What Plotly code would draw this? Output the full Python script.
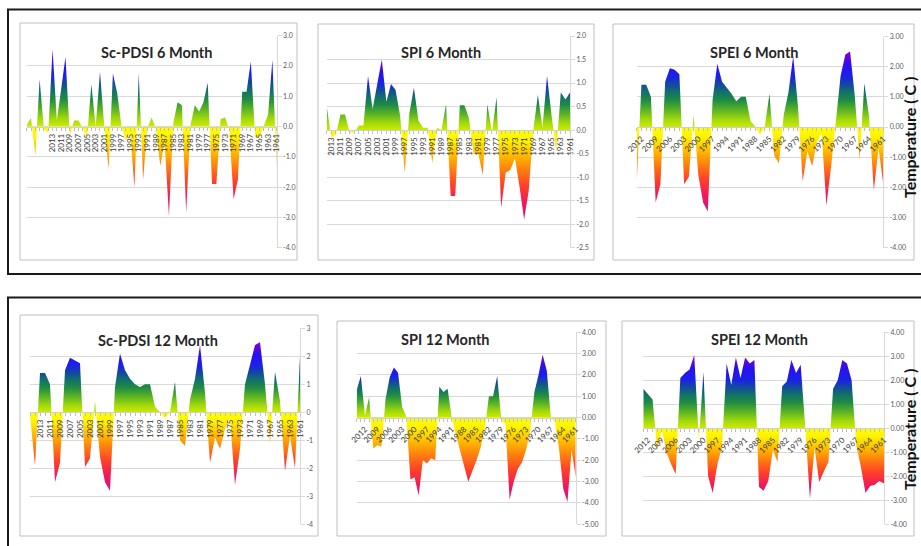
import plotly.graph_objects as go

# ---------------------------------------------------------------------------
# Drought index series, one value per year, most recent year first
# ---------------------------------------------------------------------------
pdsi6_years = list(range(2019, 1960, -1))
pdsi6_vals = [0.05, 0.28, -0.95, 1.55, -0.10, -0.20, 2.55, 0.20, 1.25, 2.30,
              -0.30, 0.20, 0.20, -0.05, -0.35, 1.40, 0.00, 1.80, 0.00, -1.40,
              1.75, 1.10, 0.00, -0.45, -0.20, -2.00, 1.75, -1.75, -0.05, 0.30,
              -0.10, -1.30, -0.50, -2.95, 0.10, 0.80, 0.70, -2.85, 0.05, 0.70,
              0.50, 0.80, 1.45, -1.90, -1.90, 0.25, 0.30, -0.10, -2.40, -1.75,
              1.15, 1.15, 2.15, -0.35, -0.35, 0.05, 0.40, 2.20, -1.40]

spi6_years = list(range(2014, 1960, -1))
spi6_vals = [0.50, -0.15, -0.10, 0.33, 0.33, -0.05, -0.05, 0.10, 0.10, 1.15,
             0.45, 0.95, 1.50, 0.60, 0.98, 0.85, 0.30, -0.90, 0.35, 0.90,
             0.20, 0.05, 0.05, -0.70, 0.05, 0.00, 0.55, -1.40, -1.40, 0.53,
             0.53, 0.25, -0.50, -0.50, -0.95, 0.55, -0.05, 0.70, -1.65, -0.90,
             -0.85, -0.60, -1.20, -1.90, -1.30, 0.00, 0.75, 0.05, 1.15, 0.30,
             -0.45, 0.80, 0.65, 0.80]

spei6_years = list(range(2013, 1960, -1))
spei6_vals = [-1.85, 1.40, 1.40, 1.00, -2.50, -1.90, 1.50, 1.95, 1.90, 1.75,
              -1.90, -1.65, 0.40, -1.60, -2.50, -2.80, 0.90, 2.10, 1.50, 1.30,
              1.10, 0.85, 1.00, 1.00, 0.20, 0.02, -0.25, 0.00, 1.10, -0.95,
              -1.20, 0.40, 1.15, 2.35, 0.70, -1.80, -0.80, -1.30, -0.50, -0.20,
              -2.60, -1.30, 0.30, 1.70, 2.40, 2.50, 1.00, -1.10, 1.45, 0.35,
              -2.10, -0.70, -1.90]

pdsi12_years = list(range(2015, 1960, -1))
pdsi12_vals = [-0.10, -1.90, 1.40, 1.40, 1.00, -2.50, -1.80, 1.50, 1.95, 1.85,
               1.75, -1.95, -1.65, 0.40, -1.60, -2.50, -2.80, 0.90, 2.10, 1.50,
               1.20, 1.00, 0.90, 1.00, 1.00, 0.20, 0.00, -0.20, 0.00, 1.10,
               -1.00, -1.20, 0.45, 1.20, 2.40, 0.70, -1.80, -0.90, -1.30, -0.60,
               -0.20, -2.60, -1.30, 1.00, 1.70, 2.40, 2.50, 1.00, -1.10, 1.45,
               0.40, -2.10, -0.85, -2.00, 2.00]

spi12_years = list(range(2014, 1960, -1))
spi12_vals = [1.30, 1.95, 0.10, 0.95, -1.45, -1.30, -1.35, 0.90, 1.90, 2.35,
              2.10, 0.50, 0.05, -2.90, -2.80, -3.65, -2.00, -2.15, -1.90, -2.00,
              1.45, 1.20, 1.35, 0.00, -0.80, -1.50, -2.20, -3.00, -2.50, -2.00,
              -1.40, -0.50, 1.00, 1.00, 1.95, -0.10, -0.30, -3.85, -3.00, -2.40,
              -2.10, -1.50, -0.60, 1.20, 2.00, 2.95, 2.20, 0.00, -0.20, -1.50,
              -3.35, -3.95, -1.50, -2.80]

spei12_years = list(range(2013, 1960, -1))
spei12_vals = [1.65, 1.40, 1.20, -0.90, -0.05, -1.00, -1.50, -1.90, 2.10, 2.30,
               2.45, 3.05, -0.50, 2.35, -2.00, -2.70, -1.50, -0.80, 2.70, 1.80,
               2.95, 2.10, 2.95, 2.70, 2.85, -2.45, -2.60, -2.20, -0.90, -1.40,
               1.75, 1.95, 2.85, 2.30, 2.65, 0.00, -2.95, -0.80, -2.25, -1.80,
               -1.40, 1.65, 2.00, 2.85, 2.70, 2.00, -0.70, -1.60, -2.70, -2.40,
               -2.35, -2.20, -2.30]

# Labelled years on the category axes
labels_every2 = list(range(2013, 1960, -2))
labels_every3 = list(range(2012, 1960, -3))

W, H = 921, 546
FONT = "Lato"

# Gradient stops: below zero (fraction of the deepest value) and above zero
NEG_STOPS = [(0.00, "#ffff00"), (0.12, "#fff200"), (0.30, "#ffb400"),
             (0.45, "#ff7c10"), (0.62, "#ff4028"), (0.80, "#f01a5a"),
             (1.00, "#d4128c")]
POS_STOPS = [(0.00, "#ccea00"), (0.10, "#a0d80c"), (0.22, "#5cb424"),
             (0.35, "#1f8c42"), (0.46, "#12706a"), (0.56, "#124a9e"),
             (0.66, "#1a22e6"), (0.82, "#2a10f0"), (1.00, "#8800c8")]


def gradient(vals):
    lo, hi = min(vals), max(vals)
    z = -lo / (hi - lo)
    scale = [[z * (1 - s), c] for s, c in reversed(NEG_STOPS)]
    scale += [[min(1.0, z + 0.002 + (1 - z - 0.002) * t), c] for t, c in POS_STOPS]
    scale[0][0] = 0.0
    scale[-1][0] = 1.0
    return dict(type="vertical", colorscale=scale, start=lo, stop=hi)


def fmt(v, decimals):
    return f"{v:.{decimals}f}"


panels = [
    dict(title="Sc-PDSI 6 Month", years=pdsi6_years, vals=pdsi6_vals,
         xpx=(26.7, 276.7), ypx=(35.7, 247.7), yr=(-4, 3), step=1, dec=1,
         labels=labels_every2, angle=-90, box=(20, 23, 297, 260), tpos=(156, 53)),
    dict(title="SPI 6 Month", years=spi6_years, vals=spi6_vals,
         xpx=(326.7, 570.0), ypx=(36.0, 247.7), yr=(-2.5, 2.0), step=0.5, dec=1,
         labels=labels_every2, angle=-90, box=(318, 24, 594, 260), tpos=(441, 53)),
    dict(title="SPEI 6 Month", years=spei6_years, vals=spei6_vals,
         xpx=(636.7, 883.3), ypx=(36.5, 247.7), yr=(-4, 3), step=1, dec=2,
         labels=labels_every3, angle=-45, box=(613, 24, 914, 260), tpos=(754, 53)),
    dict(title="Sc-PDSI 12 Month", years=pdsi12_years, vals=pdsi12_vals,
         xpx=(30.0, 300.0), ypx=(328.3, 524.3), yr=(-4, 3), step=1, dec=0,
         labels=labels_every2, angle=-90, box=(20, 315, 318, 536), tpos=(158, 340)),
    dict(title="SPI 12 Month", years=spi12_years, vals=spi12_vals,
         xpx=(356.7, 575.7), ypx=(332.3, 524.3), yr=(-5, 4), step=1, dec=2,
         labels=labels_every3, angle=-45, box=(337, 321, 606, 536), tpos=(445, 339)),
    dict(title="SPEI 12 Month", years=spei12_years, vals=spei12_vals,
         xpx=(643.3, 884.0), ypx=(332.3, 524.3), yr=(-4, 4), step=1, dec=2,
         labels=labels_every3, angle=-45, box=(622, 321, 914, 536), tpos=(759, 339)),
]

fig = go.Figure()
layout = dict(width=W, height=H, margin=dict(l=0, r=0, t=0, b=0, pad=0),
              autosize=False,
              paper_bgcolor="white", plot_bgcolor="rgba(0,0,0,0)",
              showlegend=False, shapes=[], annotations=[])

# Outer black frames around each row of charts
for y0, y1 in [(9.5, 274), (297.5, 560)]:
    layout["shapes"].append(dict(type="rect", xref="paper", yref="paper",
                                 x0=8 / W, x1=930 / W, y0=1 - y1 / H, y1=1 - y0 / H,
                                 line=dict(color="#1a1a1a", width=2), layer="below"))

for i, p in enumerate(panels, start=1):
    xs = "" if i == 1 else str(i)
    lo, hi = p["yr"]
    xd = [p["xpx"][0] / W, p["xpx"][1] / W]
    yd = [1 - p["ypx"][1] / H, 1 - p["ypx"][0] / H]
    zero_pos = yd[0] + (0 - lo) / (hi - lo) * (yd[1] - yd[0])

    fig.add_trace(go.Scatter(
        x=p["years"], y=p["vals"], xaxis="x" + xs, yaxis="y" + xs,
        mode="lines", line=dict(width=0), fill="tozeroy",
        fillgradient=gradient(p["vals"]), hoverinfo="skip"))

    n = int(round((hi - lo) / p["step"]))
    tv = [lo + k * p["step"] for k in range(n + 1)]
    tt = [fmt(v, p["dec"]) for v in tv]

    layout["xaxis" + xs] = dict(
        domain=xd, range=[p["years"][0], p["years"][-1]],
        anchor="free", position=zero_pos, automargin=False,
        showgrid=False, zeroline=False, showline=True,
        linecolor="#d0d0d0", linewidth=1,
        ticks="outside", ticklen=3, tickcolor="#c0c0c0",
        tickvals=p["labels"], ticktext=[str(y) for y in p["labels"]],
        tickangle=p["angle"],
        tickfont=dict(family=FONT, size=8, color="#3a3a3a"),
        minor=dict(dtick=1, tick0=1961, ticks="outside", ticklen=3,
                   tickcolor="#c0c0c0", showgrid=False),
        fixedrange=True)
    layout["yaxis" + xs] = dict(
        domain=yd, range=[lo, hi], anchor="x" + xs, side="right",
        automargin=False,
        showgrid=True, gridcolor="#d9d9d9", gridwidth=1, zeroline=False,
        showline=True, linecolor="#d9d9d9", linewidth=1,
        ticks="outside", ticklen=4, tickcolor="#d9d9d9",
        tickvals=tv, ticktext=tt,
        tickfont=dict(family=FONT, size=7, color="#595959"),
        fixedrange=True)

    bx0, by0, bx1, by1 = p["box"]
    layout["shapes"].append(dict(type="rect", xref="paper", yref="paper",
                                 x0=bx0 / W, x1=bx1 / W, y0=1 - by1 / H, y1=1 - by0 / H,
                                 line=dict(color="#bfbfbf", width=1), layer="below"))
    layout["annotations"].append(dict(
        text="<b>" + p["title"] + "</b>", xref="paper", yref="paper",
        x=p["tpos"][0] / W, y=1 - p["tpos"][1] / H, xanchor="center", yanchor="middle",
        showarrow=False, font=dict(family=FONT, size=14.5, color="#262626")))

# Value-axis caption beside the SPEI charts
for cy in (138, 430):
    layout["annotations"].append(dict(
        text="<b>Temperature ( C )</b>", xref="paper", yref="paper",
        x=909 / W, y=1 - cy / H, xanchor="center", yanchor="middle",
        textangle=-90, showarrow=False,
        font=dict(family=FONT, size=16, color="#111111")))

fig.update_layout(**layout)
fig.write_html("out.html", config={"displayModeBar": False})
